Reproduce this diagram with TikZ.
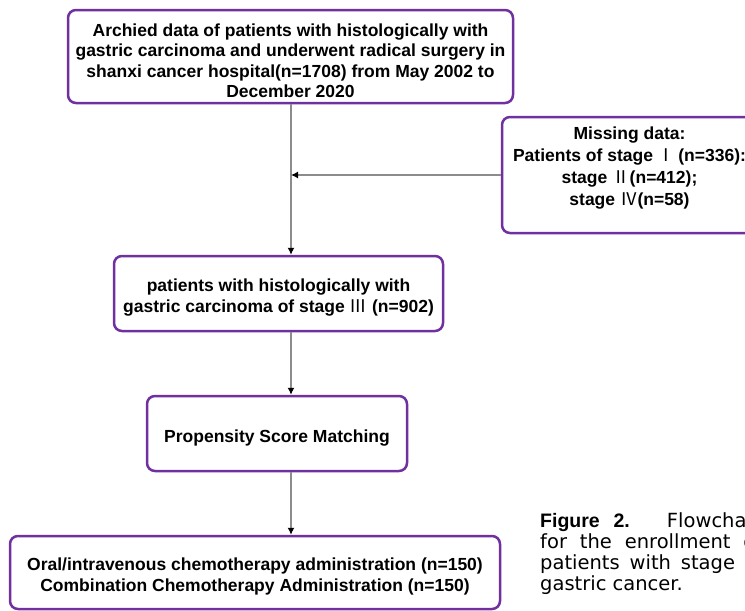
\documentclass[tikz,border=0pt]{standalone}
\usepackage{fontspec}
\usetikzlibrary{arrows.meta}
\setmainfont{Liberation Sans}
\newfontfamily\cjk{Noto Sans CJK SC}
\newfontfamily\capfont{DejaVu Sans}
\newcommand{\rn}[1]{\makebox[1em]{\cjk\mdseries #1}}
\newcommand{\lift}{\rule{0pt}{21pt}}
\definecolor{boxpurple}{HTML}{7030A0}
\definecolor{linegray}{HTML}{8C8C8C}
\begin{document}
\begin{tikzpicture}[
  x=1pt, y=-1pt,
  font=\fontsize{17.5}{20.5}\selectfont\bfseries,
  box/.style={draw=boxpurple, line width=2.5pt, rounded corners=8pt, align=center, inner sep=0pt, fill=white},
  flow/.style={draw=linegray, line width=1.2pt, -{Latex[black, length=7pt, width=7pt]}},
  capt/.style={anchor=north west, text width=222pt, align=justify, inner sep=0pt,
    font=\capfont\fontsize{19.5}{21}\selectfont}
]
\useasboundingbox (0,0) rectangle (745,611);

% Boxes of the flow, placed at their pixel positions
\node[box, minimum width=445pt, minimum height=93pt] (archive) at (290.5, 56.5)
  {\lift Archied data of patients with histologically with\\
   gastric carcinoma and underwent radical surgery in\\
   shanxi cancer hospital(n=1708) from May 2002 to\\
   December 2020};
\node[box, minimum width=255pt, minimum height=116pt] (missing) at (629.5, 175)
  {\lift Missing data:\\[1.5pt]
   Patients of stage \rn{Ⅰ}\,(n=336):\\[1.5pt]
   stage \rn{Ⅱ}(n=412);\\[1.5pt]
   stage \rn{Ⅳ}(n=58)\\[6pt]};
\node[box, minimum width=329pt, minimum height=75pt] (stage) at (278.5, 293.5)
  {\lift patients with histologically with\\
   gastric carcinoma of stage \rn{Ⅲ} (n=902)};
\node[box, minimum width=260pt, minimum height=75pt] (psm) at (277, 433.5)
  {\lift Propensity Score Matching};
\node[box, minimum width=490pt, minimum height=73pt] (groups) at (255, 572.5)
  {\lift Oral/intravenous chemotherapy administration (n=150)\\[1pt]
   Combination Chemotherapy Administration (n=150)};

% Connectors
\coordinate (top) at (291, 103);
\coordinate (join) at (291, 175);
\draw[flow] (top |- archive.south) -- (top |- stage.north);
\draw[flow] (missing.west) -- (join);
\draw[flow] (top |- stage.south) -- (top |- psm.north);
\draw[flow] (top |- psm.south) -- (top |- groups.north);

% Caption, cut by the page edge
\node[capt] (caption) at (540, 512)
  {{\rmfamily\bfseries Figure 2.} Flowchart\linebreak for the enrollment of\linebreak patients with stage III\linebreak gastric cancer.};
\end{tikzpicture}
\end{document}
